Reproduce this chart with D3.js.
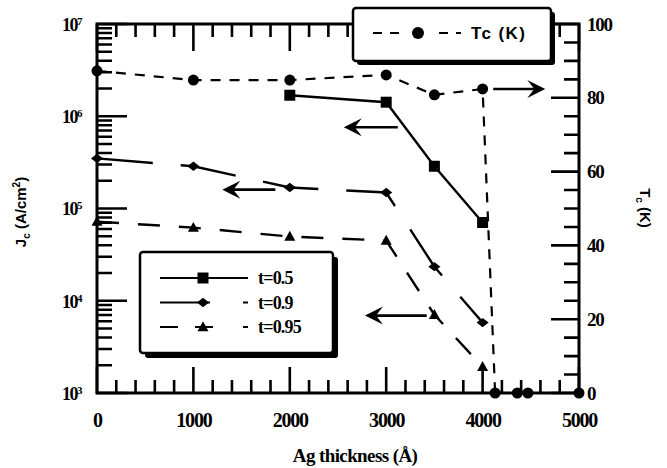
<!DOCTYPE html>
<html>
<head>
<meta charset="utf-8">
<script src="https://cdn.jsdelivr.net/npm/d3@7"></script>
<style>
  body { margin: 0; background: #fff; }
  svg { display: block; }
  .tick text { font-family: "Liberation Serif", serif; font-weight: bold; }
</style>
</head>
<body>
<svg id="chart" width="667" height="468"></svg>
<script>
// Ag thickness (Å) for each measured sample
const thickness = [0, 1000, 2000, 3000, 3500, 4000];
const tcThickness = [0, 1000, 2000, 3000, 3500, 4000, 4130, 4360, 4470, 5000];

// critical current density Jc (A/cm^2), left axis
const jcT05 = [null, null, 1.69e6, 1.42e6, 2.87e5, 7.05e4];
const jcT09 = [3.49e5, 2.87e5, 1.69e5, 1.49e5, 2.34e4, 5.8e3];
const jcT095 = [7.2e4, 6.2e4, 4.97e4, 4.49e4, 7.05e3, 1.92e3];

// Tc (K), right axis
const tcValues = [87.3, 84.8, 84.8, 86.2, 80.8, 82.4, 0, 0, 0, 0];

const xTicks = [0, 1000, 2000, 3000, 4000, 5000];
const jcTicks = [1e3, 1e4, 1e5, 1e6, 1e7];
const tcTicks = [0, 20, 40, 60, 80, 100];

// arrows pointing to the axis each curve belongs to
const jcArrows = [
  { from: 3120, to: 2560, value: 7.6e5 },
  { from: 1850, to: 1300, value: 1.6e5 },
  { from: 3420, to: 2780, value: 6.9e3 }
];
const tcArrows = [{ from: 4110, to: 4650, value: 82.4 }];

const svg = d3.select("#chart");
const pLeft = 97, pRight = 579, pTop = 24, pBottom = 393;

const x = d3.scaleLinear().domain([0, 5000]).range([pLeft, pRight]);
const yL = d3.scaleLog().domain([1e3, 1e7]).range([pBottom, pTop]);
const yR = d3.scaleLinear().domain([0, 100]).range([pBottom, pTop]);

svg.append("rect").attr("width", 667).attr("height", 468).attr("fill", "#fff");

const plot = svg.append("g");

// minor tick values
const xMinor = d3.range(0, 5001, 200).filter(d => d % 1000 !== 0);
const jcMinor = [];
[1e3, 1e4, 1e5, 1e6].forEach(dec => { for (let k = 2; k <= 9; k++) jcMinor.push(dec * k); });
const tcMinor = d3.range(0, 101, 5).filter(d => d % 20 !== 0);

// inward tick marks as one path built from the scales
let tickD = "";
function addTicks(values, scale, orient, len) {
  values.forEach(v => {
    const p = scale(v);
    if (orient === "bottom") tickD += `M${p},${pBottom}V${pBottom - len}`;
    if (orient === "top") tickD += `M${p},${pTop}V${pTop + len}`;
    if (orient === "left") tickD += `M${pLeft},${p}H${pLeft + len}`;
    if (orient === "right") tickD += `M${pRight},${p}H${pRight - len}`;
  });
}
addTicks(xMinor, x, "bottom", 13);
addTicks(xTicks, x, "bottom", 26);
addTicks(xMinor, x, "top", 13);
addTicks(xTicks, x, "top", 27);
addTicks(jcMinor, yL, "left", 15);
addTicks(jcTicks, yL, "left", 30);
addTicks(tcMinor, yR, "right", 15);
addTicks(tcTicks, yR, "right", 28);
plot.append("path").attr("d", tickD).attr("fill", "none").attr("stroke", "#000").attr("stroke-width", 2.6);

// frame
plot.append("path")
  .attr("d", `M${pLeft},${pTop}H${pRight}V${pBottom}H${pLeft}Z`)
  .attr("fill", "none").attr("stroke", "#000").attr("stroke-width", 3);

// series
const series = [
  { name: "t=0.5", values: jcT05, dash: null, marker: "square" },
  { name: "t=0.9", values: jcT09, dash: "56,28", marker: "diamond" },
  { name: "t=0.95", values: jcT095, dash: "22,19", marker: "triangle" }
];

function markerPath(type, size) {
  const s = size / 2;
  if (type === "square") return `M${-s},${-s}H${s}V${s}H${-s}Z`;
  if (type === "diamond") return `M0,${-s * 0.85}L${s * 1.1},0L0,${s * 0.85}L${-s * 1.1},0Z`;
  if (type === "triangle") return `M0,${-s * 1.05}L${s},${s * 0.75}L${-s},${s * 0.75}Z`;
  return "";
}

series.forEach(s => {
  const pts = thickness.map((t, i) => ({ t, v: s.values[i] })).filter(p => p.v != null);
  const path = plot.append("path").datum(pts)
    .attr("fill", "none").attr("stroke", "#000").attr("stroke-width", 2.4)
    .attr("d", d3.line().x(p => x(p.t)).y(p => yL(p.v)));
  if (s.dash) path.attr("stroke-dasharray", s.dash);
  pts.forEach(p => {
    plot.append("path")
      .attr("transform", `translate(${x(p.t)},${yL(p.v)})`)
      .attr("d", markerPath(s.marker, 11)).attr("fill", "#000");
  });
});

// Tc series
const tcPts = tcThickness.map((t, i) => ({ t, v: tcValues[i] }));
plot.append("path").datum(tcPts)
  .attr("fill", "none").attr("stroke", "#000").attr("stroke-width", 2.2)
  .attr("stroke-dasharray", "10,9")
  .attr("d", d3.line().x(p => x(p.t)).y(p => yR(p.v)));
tcPts.forEach(p => {
  plot.append("circle").attr("cx", x(p.t)).attr("cy", yR(p.v)).attr("r", 5.5).attr("fill", "#000");
});

// arrows
function arrow(x1, x2, y) {
  const dir = x2 < x1 ? 1 : -1;
  plot.append("line").attr("x1", x1).attr("x2", x2 + dir * 4).attr("y1", y).attr("y2", y)
    .attr("stroke", "#000").attr("stroke-width", 2.6);
  plot.append("path")
    .attr("d", `M${x2},${y}L${x2 + dir * 18},${y - 9}L${x2 + dir * 11},${y}L${x2 + dir * 18},${y + 9}Z`)
    .attr("fill", "#000");
}
jcArrows.forEach(a => arrow(x(a.from), x(a.to), yL(a.value)));
tcArrows.forEach(a => arrow(x(a.from), x(a.to), yR(a.value)));

function cleanAxis(g) {
  g.select(".domain").remove();
  g.selectAll(".tick line").remove();
}

// tick labels from d3 axes
svg.append("g").attr("transform", `translate(0,${pBottom})`)
  .call(d3.axisBottom(x).tickValues(xTicks).tickSize(0).tickPadding(20).tickFormat(d3.format("d")))
  .call(cleanAxis)
  .call(g => g.selectAll(".tick text").attr("font-size", 20).attr("letter-spacing", -1.2).attr("fill", "#000"));

const leftAxis = svg.append("g").attr("transform", `translate(${pLeft},0)`)
  .call(d3.axisLeft(yL).tickValues(jcTicks).tickSize(0).tickFormat(""))
  .call(cleanAxis);
leftAxis.selectAll(".tick").each(function (d) {
  const t = d3.select(this).append("text")
    .attr("x", -16).attr("dy", "0.35em").attr("text-anchor", "end")
    .attr("fill", "#000").attr("font-size", 18).attr("letter-spacing", -1.5);
  t.append("tspan").text("10");
  t.append("tspan").attr("dy", "-0.55em").attr("font-size", 11).text(Math.round(Math.log10(d)));
});

svg.append("g").attr("transform", `translate(${pRight},0)`)
  .call(d3.axisRight(yR).tickValues(tcTicks).tickSize(0).tickFormat(d3.format("d")))
  .call(cleanAxis)
  .call(g => g.selectAll(".tick text").attr("font-size", 19).attr("letter-spacing", -1.2)
    .attr("fill", "#000").attr("text-anchor", "start").attr("x", 8));

// Tc legend box
svg.append("rect").attr("x", 357).attr("y", 12).attr("width", 198).attr("height", 53).attr("rx", 3).attr("fill", "#000");
svg.append("rect").attr("x", 353).attr("y", 8).attr("width", 198).attr("height", 53).attr("rx", 3)
  .attr("fill", "#fff").attr("stroke", "#000").attr("stroke-width", 2.5);
svg.append("line").attr("x1", 373).attr("x2", 461).attr("y1", 33).attr("y2", 33)
  .attr("stroke", "#000").attr("stroke-width", 2.2).attr("stroke-dasharray", "9,8,9,40,9,8,9");
svg.append("circle").attr("cx", 418).attr("cy", 33).attr("r", 6).attr("fill", "#000");
svg.append("text").attr("x", 471).attr("y", 39).text("Tc (K)")
  .attr("font-family", "Liberation Sans, Arial, sans-serif").attr("font-weight", "bold")
  .attr("font-size", 17).attr("letter-spacing", 1.4);

// t legend box
const lg = { x: 140, y: 252, w: 193, h: 101 };
svg.append("rect").attr("x", lg.x + 5).attr("y", lg.y + 5).attr("width", lg.w).attr("height", lg.h).attr("rx", 3).attr("fill", "#000");
svg.append("rect").attr("x", lg.x).attr("y", lg.y).attr("width", lg.w).attr("height", lg.h).attr("rx", 3)
  .attr("fill", "#fff").attr("stroke", "#000").attr("stroke-width", 2.5);
const legendDash = [null, "50,33,5,100", "18,17,18,30,5,100"];
series.forEach((s, i) => {
  const yy = 278 + i * 24.5;
  const ln = svg.append("line").attr("x1", 160).attr("x2", 248).attr("y1", yy).attr("y2", yy)
    .attr("stroke", "#000").attr("stroke-width", 2.2);
  if (legendDash[i]) ln.attr("stroke-dasharray", legendDash[i]);
  svg.append("path").attr("transform", `translate(203,${yy})`)
    .attr("d", markerPath(s.marker, 11)).attr("fill", "#000");
  svg.append("text").attr("x", 258).attr("y", yy + 6).text(s.name)
    .attr("font-family", "Liberation Serif, serif").attr("font-weight", "bold")
    .attr("font-size", 18).attr("letter-spacing", -0.8);
});

// axis titles
svg.append("text").attr("x", 355).attr("y", 462).attr("text-anchor", "middle")
  .attr("font-family", "Liberation Serif, serif").attr("font-weight", "bold").attr("font-size", 19)
  .attr("letter-spacing", -0.6).text("Ag thickness (Å)");

const jl = svg.append("text").attr("transform", "translate(26,212) rotate(-90)").attr("text-anchor", "middle")
  .attr("font-family", "Liberation Sans, Arial, sans-serif").attr("font-weight", "bold").attr("font-size", 15);
jl.append("tspan").text("J");
jl.append("tspan").attr("dy", 4).attr("font-size", 10).text("c");
jl.append("tspan").attr("dy", -4).text(" (A/cm");
jl.append("tspan").attr("dy", -6).attr("font-size", 10).text("2");
jl.append("tspan").attr("dy", 6).text(")");

const tl = svg.append("text").attr("transform", "translate(640,208) rotate(90)").attr("text-anchor", "middle")
  .attr("font-family", "Liberation Sans, Arial, sans-serif").attr("font-weight", "bold").attr("font-size", 15);
tl.append("tspan").text("T");
tl.append("tspan").attr("dy", 4).attr("font-size", 10).text("c");
tl.append("tspan").attr("dy", -4).text(" (K)");
</script>
</body>
</html>
